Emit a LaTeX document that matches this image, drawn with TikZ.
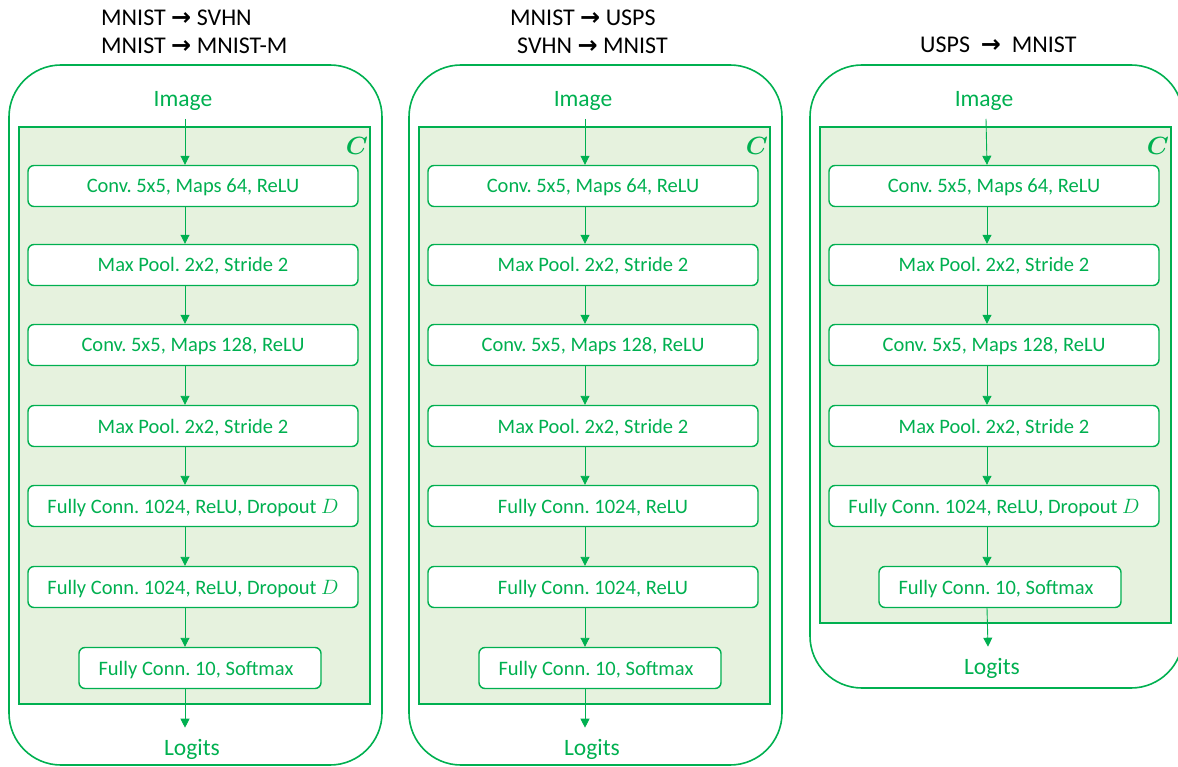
\documentclass[tikz,border=0pt]{standalone}
\usepackage{fontspec}
\usepackage{bm}
\setmainfont{Carlito}
\newfontfamily\arrfont{DejaVu Sans}
\usetikzlibrary{arrows.meta}
\definecolor{grn}{HTML}{00B050}
\definecolor{lgrn}{HTML}{E6F2DE}
\newcommand{\ra}{{\arrfont\bfseries →}}
\frenchspacing
\begin{document}
\begin{tikzpicture}[x=1pt,y=-1pt,
  outerbox/.style={draw=grn,line width=1.6pt,rounded corners=52pt},
  innerbox/.style={draw=grn,fill=lgrn,line width=1.6pt},
  layer/.style={draw=grn,fill=white,line width=1.4pt,rounded corners=6pt,minimum width=330pt,minimum height=41pt,text=grn,font=\fontsize{20.5}{22}\selectfont,inner sep=0pt,text height=17pt,text depth=3pt},
  small/.style={layer,minimum width=242pt},
  io/.style={text=grn,font=\fontsize{23.5}{25}\selectfont,inner sep=0pt},
  ttl/.style={text=black,font=\fontsize{24}{26}\selectfont,inner sep=0pt,anchor=west},
  clab/.style={text=grn,font=\fontsize{24}{26}\selectfont,inner sep=0pt},
  flow/.style={grn,line width=0.9pt,-{Triangle[width=9pt,length=9pt]}}]
\useasboundingbox (0,0) rectangle (1178,767);

% ---------------- Panel 1 ----------------
\node[ttl] (t1a) at (101,18) {MNIST \ra\ SVHN};
\node[ttl] (t1b) at (101,46) {MNIST \ra\ MNIST-M};
\draw[outerbox] (9,65) rectangle (382,765);
\draw[innerbox] (19,127) rectangle (370,704);
\node[clab] (c1) at (357,146) {$\bm{C}$};
\node[io] (im1) at (183,101) {Image};
\node[layer] (a1) at (193,186) {Conv. 5x5, Maps 64, ReLU};
\node[layer] (a2) at (193,265) {Max Pool. 2x2, Stride 2};
\node[layer] (a3) at (193,345) {Conv. 5x5, Maps 128, ReLU};
\node[layer] (a4) at (193,426) {Max Pool. 2x2, Stride 2};
\node[layer] (a5) at (193,506) {Fully Conn. 1024, ReLU, Dropout $D$};
\node[layer] (a6) at (193,587) {Fully Conn. 1024, ReLU, Dropout $D$};
\node[small] (a7) at (200,668) {Fully Conn. 10, Softmax\hspace*{8pt}};
\node[io] (lg1) at (192,749) {Logits};
\draw[flow] ([xshift=2pt,yshift=-8pt]im1.south) -- ([xshift=-8pt]a1.north);
\draw[flow] ([xshift=-8pt]a1.south) -- ([xshift=-8pt]a2.north);
\draw[flow] ([xshift=-8pt]a2.south) -- ([xshift=-8pt]a3.north);
\draw[flow] ([xshift=-8pt]a3.south) -- ([xshift=-8pt]a4.north);
\draw[flow] ([xshift=-8pt]a4.south) -- ([xshift=-8pt]a5.north);
\draw[flow] ([xshift=-8pt]a5.south) -- ([xshift=-8pt]a6.north);
\draw[flow] ([xshift=-8pt]a6.south) -- ([xshift=-15pt]a7.north);
\draw[flow] ([xshift=-15pt]a7.south) -- ([xshift=-7pt,yshift=11pt]lg1.north);

% ---------------- Panel 2 ----------------
\node[ttl] (t2a) at (510,18) {MNIST \ra\ USPS};
\node[ttl] (t2b) at (517,46) {SVHN \ra\ MNIST};
\draw[outerbox] (409,65) rectangle (782,765);
\draw[innerbox] (419,127) rectangle (770,704);
\node[clab] (c2) at (757,146) {$\bm{C}$};
\node[io] (im2) at (583,101) {Image};
\node[layer] (b1) at (593,186) {Conv. 5x5, Maps 64, ReLU};
\node[layer] (b2) at (593,265) {Max Pool. 2x2, Stride 2};
\node[layer] (b3) at (593,345) {Conv. 5x5, Maps 128, ReLU};
\node[layer] (b4) at (593,426) {Max Pool. 2x2, Stride 2};
\node[layer] (b5) at (593,506) {Fully Conn. 1024, ReLU};
\node[layer] (b6) at (593,587) {Fully Conn. 1024, ReLU};
\node[small] (b7) at (600,668) {Fully Conn. 10, Softmax\hspace*{8pt}};
\node[io] (lg2) at (592,749) {Logits};
\draw[flow] ([xshift=2pt,yshift=-8pt]im2.south) -- ([xshift=-8pt]b1.north);
\draw[flow] ([xshift=-8pt]b1.south) -- ([xshift=-8pt]b2.north);
\draw[flow] ([xshift=-8pt]b2.south) -- ([xshift=-8pt]b3.north);
\draw[flow] ([xshift=-8pt]b3.south) -- ([xshift=-8pt]b4.north);
\draw[flow] ([xshift=-8pt]b4.south) -- ([xshift=-8pt]b5.north);
\draw[flow] ([xshift=-8pt]b5.south) -- ([xshift=-8pt]b6.north);
\draw[flow] ([xshift=-8pt]b6.south) -- ([xshift=-15pt]b7.north);
\draw[flow] ([xshift=-15pt]b7.south) -- ([xshift=-7pt,yshift=11pt]lg2.north);

% ---------------- Panel 3 ----------------
\node[ttl] (t3a) at (920,45) {USPS \ \ra\ \ MNIST};
\draw[outerbox] (810,65) rectangle (1183,688);
\draw[innerbox] (820,127) rectangle (1171,623);
\node[clab] (c3) at (1158,146) {$\bm{C}$};
\node[io] (im3) at (984,101) {Image};
\node[layer] (c1b) at (994,186) {Conv. 5x5, Maps 64, ReLU};
\node[layer] (c2b) at (994,265) {Max Pool. 2x2, Stride 2};
\node[layer] (c3b) at (994,345) {Conv. 5x5, Maps 128, ReLU};
\node[layer] (c4b) at (994,426) {Max Pool. 2x2, Stride 2};
\node[layer] (c5b) at (994,506) {Fully Conn. 1024, ReLU, Dropout $D$};
\node[small] (c6b) at (1000,587) {Fully Conn. 10, Softmax\hspace*{8pt}};
\node[io] (lg3) at (992,668) {Logits};
\draw[flow] ([xshift=2pt,yshift=-8pt]im3.south) -- ([xshift=-7pt]c1b.north);
\draw[flow] ([xshift=-7pt]c1b.south) -- ([xshift=-7pt]c2b.north);
\draw[flow] ([xshift=-7pt]c2b.south) -- ([xshift=-7pt]c3b.north);
\draw[flow] ([xshift=-7pt]c3b.south) -- ([xshift=-7pt]c4b.north);
\draw[flow] ([xshift=-7pt]c4b.south) -- ([xshift=-7pt]c5b.north);
\draw[flow] ([xshift=-7pt]c5b.south) -- ([xshift=-13pt]c6b.north);
\draw[flow] ([xshift=-13pt]c6b.south) -- ([xshift=-4pt,yshift=11pt]lg3.north);
\end{tikzpicture}
\end{document}
